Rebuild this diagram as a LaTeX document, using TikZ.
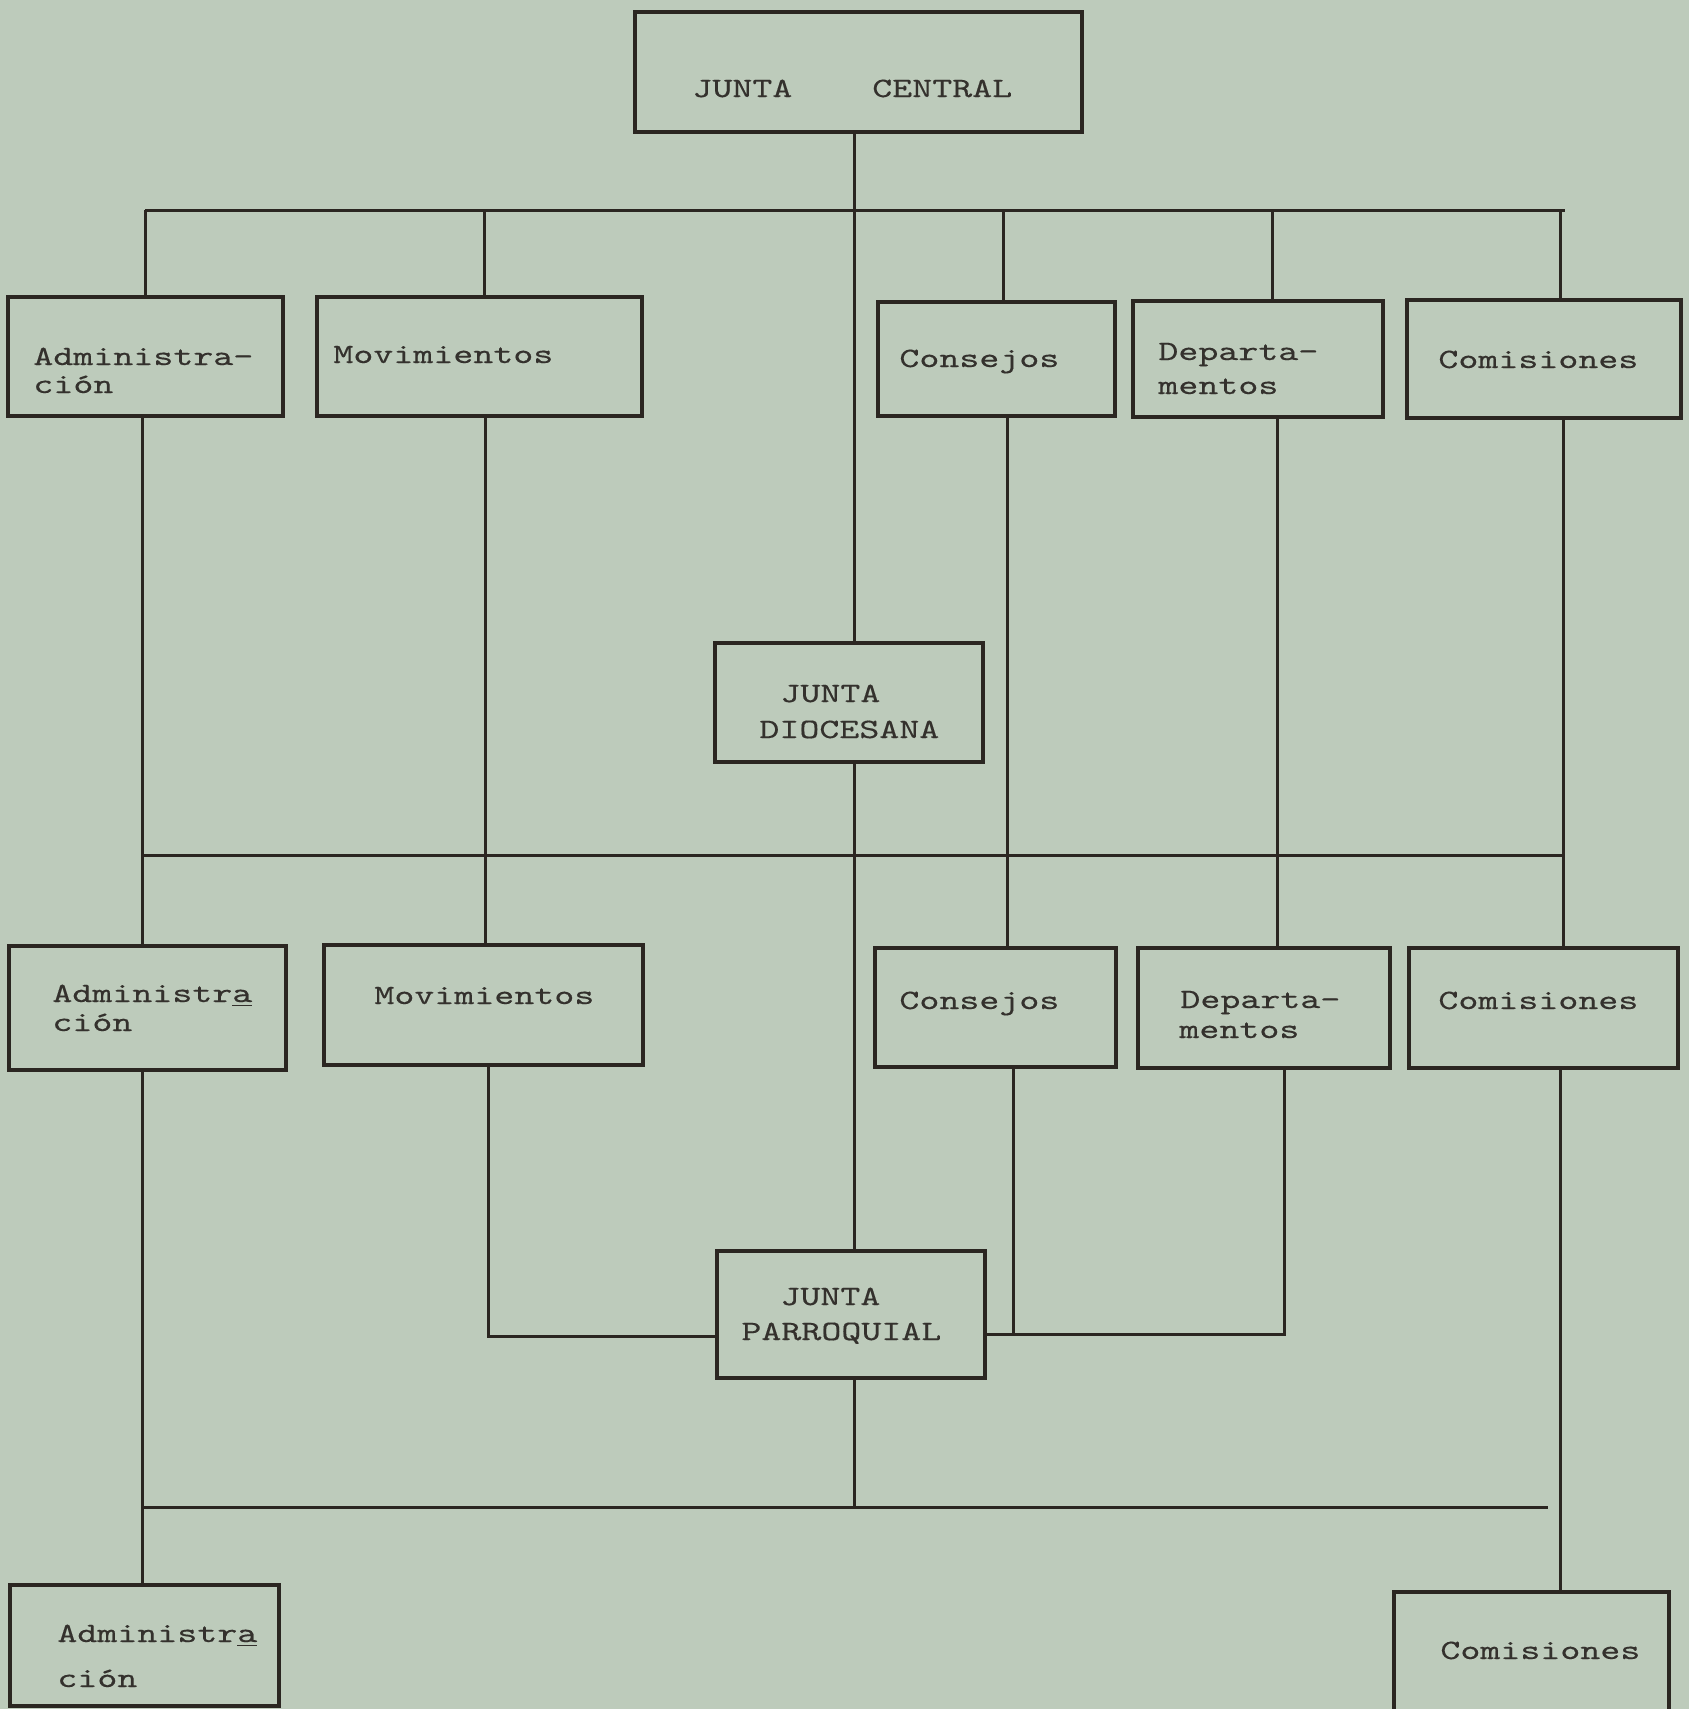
\documentclass[tikz,border=0pt]{standalone}
\usepackage{fontspec}
\newfontfamily\tw[FakeStretch=1.36,FakeBold=0.35]{lmmono10-regular.otf}
\definecolor{paper}{HTML}{BDCBBB}
\definecolor{ink}{HTML}{2B2621}
\definecolor{typeink}{HTML}{34312D}
\newcommand\orgbox[5]{\node[bx, minimum width={(#4-#2)*0.5pt}, minimum height={(#5-#3)*0.5pt}] (#1) at ({(#2+#4)/2},{(#3+#5)/2}) {};}
\begin{document}
\begin{tikzpicture}[x=0.5pt,y=-0.5pt,
  bx/.style={draw=ink, line width=1.8pt, rectangle, inner sep=0pt, outer sep=0pt},
  wire/.style={draw=ink, line width=1.5pt},
  lbl/.style={anchor=base west, inner sep=0pt, text=typeink, font=\tw\fontsize{14}{16}\selectfont}]
\fill[paper] (0,0) rectangle (1689,1709);
\useasboundingbox (0,0) rectangle (1689,1709);
\clip (0,0) rectangle (1689,1709);

% boxes
\orgbox{jc}{635}{12}{1082}{132}
\orgbox{a1}{8}{297}{283}{416}
\orgbox{a2}{317}{297}{642}{416}
\orgbox{a3}{878}{302}{1115}{416}
\orgbox{a4}{1133}{301}{1383}{417}
\orgbox{a5}{1407}{300}{1681}{418}
\orgbox{jd}{715}{643}{983}{762}
\orgbox{b1}{9}{946}{286}{1070}
\orgbox{b2}{324}{945}{643}{1065}
\orgbox{b3}{875}{948}{1116}{1067}
\orgbox{b4}{1138}{948}{1390}{1068}
\orgbox{b5}{1409}{948}{1678}{1068}
\orgbox{jp}{717}{1251}{985}{1378}
\orgbox{c1}{10}{1585}{279}{1706}
\orgbox{c2}{1394}{1592}{1669}{1740}

% labels
\node[lbl] (jcT) at (692,97) {JUNTA~~~~CENTRAL};
\node[lbl] (a1T) at (33,365) {Administra-};
\node[lbl] (a1U) at (33,393) {ción};
\node[lbl] (a2T) at (333,363) {Movimientos};
\node[lbl] (a3T) at (899,367) {Consejos};
\node[lbl] (a4T) at (1158,360) {Departa-};
\node[lbl] (a4U) at (1158,394) {mentos};
\node[lbl] (a5T) at (1438,368) {Comisiones};
\node[lbl] (jdT) at (780,702) {JUNTA};
\node[lbl] (jdU) at (759,738) {DIOCESANA};
\node[lbl] (b1T) at (52,1002) {Administr\underline{a}};
\node[lbl] (b1U) at (52,1031) {ción};
\node[lbl] (b2T) at (374,1004) {Movimientos};
\node[lbl] (b3T) at (899,1009) {Consejos};
\node[lbl] (b4T) at (1180,1008) {Departa-};
\node[lbl] (b4U) at (1179,1038) {mentos};
\node[lbl] (b5T) at (1438,1009) {Comisiones};
\node[lbl] (jpT) at (780,1305) {JUNTA};
\node[lbl] (jpU) at (741,1340) {PARROQUIAL};
\node[lbl] (c1T) at (57,1642) {Administr\underline{a}};
\node[lbl] (c1U) at (57,1687) {ción};
\node[lbl] (c2T) at (1440,1659) {Comisiones};

% bus coordinates
\coordinate (t0) at (854,210);
\coordinate (t1) at (145,210);
\coordinate (t2) at (484,210);
\coordinate (t3) at (1003,210);
\coordinate (t4) at (1272,210);
\coordinate (t5) at (1560,210);
\coordinate (tE) at (1565,210);
\coordinate (m0) at (854,855);
\coordinate (m1) at (142,855);
\coordinate (m2) at (485,855);
\coordinate (m3) at (1007,855);
\coordinate (m4) at (1277,855);
\coordinate (m5) at (1563,855);
\coordinate (p1) at (488,1336);
\coordinate (q1) at (1013,1334);
\coordinate (q2) at (1284,1334);
\coordinate (r0) at (854,1507);
\coordinate (r1) at (142,1507);
\coordinate (rE) at (1548,1507);
\coordinate (s5) at (1560,1507);

% top level
\draw[wire] (t0 |- jc.south) -- (t0 |- jd.north);
\draw[wire] (t1) -- (tE);
\foreach \i in {1,...,5} {\draw[wire] (t\i) -- (t\i |- a\i.north);}

% middle level
\foreach \i in {1,...,5} {\draw[wire] (m\i |- a\i.south) -- (m\i |- b\i.north);}
\draw[wire] (m1) -- (m5);
\draw[wire] (m0 |- jd.south) -- (m0 |- jp.north);

% parish level
\draw[wire] (p1 |- b2.south) -- (p1) -- (p1 -| jp.west);
\draw[wire] (q1 |- b3.south) -- (q1);
\draw[wire] (q2 |- b4.south) -- (q2) -- (q2 -| jp.east);
\draw[wire] (r0 |- jp.south) -- (r0);
\draw[wire] (r1) -- (rE);
\draw[wire] (r1 |- b1.south) -- (r1 |- c1.north);
\draw[wire] (s5 |- b5.south) -- (s5 |- c2.north);
\end{tikzpicture}
\end{document}
